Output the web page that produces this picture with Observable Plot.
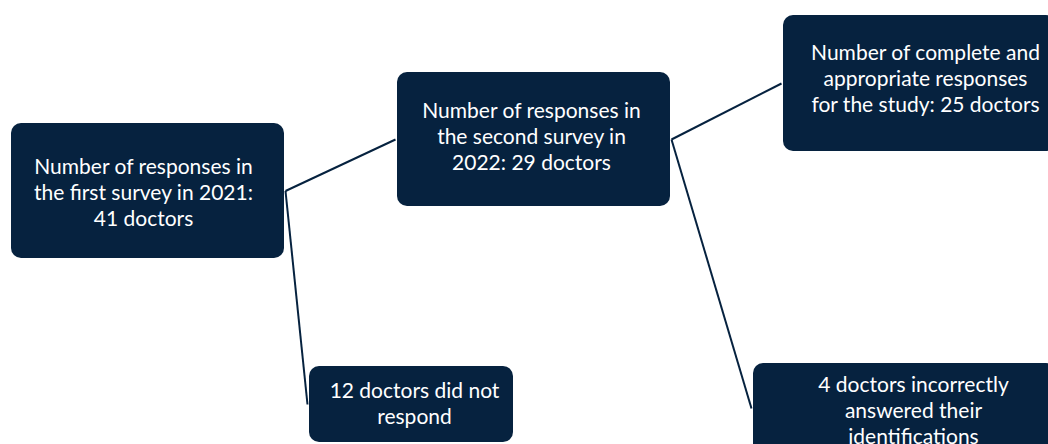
<!DOCTYPE html>
<html>
<head>
<meta charset="utf-8">
<script src="https://cdn.jsdelivr.net/npm/d3@7"></script>
<script src="https://cdn.jsdelivr.net/npm/@observablehq/plot@0.6"></script>
<style>
  html, body { margin: 0; padding: 0; background: #ffffff; overflow: hidden; }
  #chart { width: 1048px; height: 444px; }
</style>
</head>
<body>
<div id="chart"></div>
<script>
// Flow-diagram nodes (diagram coordinates, top-left origin)
const nodeIds = ["first", "second", "complete", "noResponse", "incorrect"];
const nodeLabels = [
  "Number of responses in\nthe first survey in 2021:\n41 doctors",
  "Number of responses in\nthe second survey in\n2022: 29 doctors",
  "Number of complete and\nappropriate responses\nfor the study: 25 doctors",
  "12 doctors did not\nrespond",
  "4 doctors incorrectly\nanswered their\nidentifications"
];
const nodeLeft   = [11, 397, 783, 309, 753];
const nodeRight  = [284, 670, 1056, 513, 1056];
const nodeTop    = [123, 72, 15, 366, 363];
const nodeBottom = [258, 206, 151, 442, 453];
const labelX     = [143, 531, 925, 414, 913];
const labelY     = [191, 135, 77, 402, 409];

// Flow edges
const edgeFrom = ["first", "first", "second", "second"];
const edgeTo   = ["second", "noResponse", "complete", "incorrect"];

const nodes = nodeIds.map((id, i) => ({
  id, label: nodeLabels[i],
  x1: nodeLeft[i], x2: nodeRight[i], y1: nodeTop[i], y2: nodeBottom[i],
  lx: labelX[i], ly: labelY[i]
}));
const byId = new Map(nodes.map(n => [n.id, n]));
const edges = edgeFrom.map((f, i) => {
  const s = byId.get(f), t = byId.get(edgeTo[i]);
  return {
    x1: s.x2 + 1, y1: (s.y1 + s.y2) / 2,
    x2: t.x1 - 2, y2: (t.y1 + t.y2) / 2
  };
});

const navy = "#06223f";

const chart = Plot.plot({
  width: 1048,
  height: 444,
  margin: 0,
  x: {domain: [0, 1048], axis: null},
  y: {domain: [444, 0], axis: null},
  style: {background: "#ffffff", fontFamily: "Lato, 'Open Sans', sans-serif"},
  marks: [
    Plot.link(edges, {x1: "x1", y1: "y1", x2: "x2", y2: "y2", stroke: navy, strokeWidth: 2, clip: true}),
    Plot.rect(nodes, {x1: "x1", x2: "x2", y1: "y1", y2: "y2", fill: navy, rx: 10, clip: true}),
    Plot.text(nodes, {
      x: "lx", y: "ly", text: "label", fill: "#ffffff",
      fontSize: 21, lineHeight: 1.24, lineAnchor: "middle",
      textAnchor: "middle", fontFamily: "Lato", clip: true
    })
  ]
});
document.getElementById("chart").appendChild(chart);
</script>
</body>
</html>
